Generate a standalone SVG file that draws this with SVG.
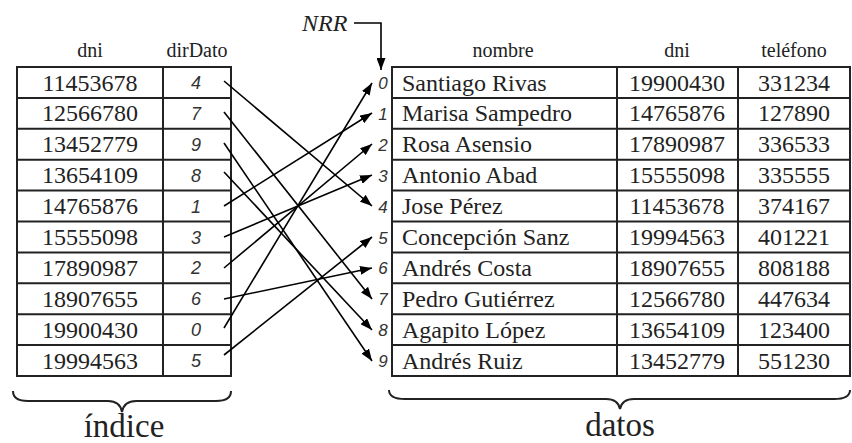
<svg xmlns="http://www.w3.org/2000/svg" width="852" height="443" viewBox="0 0 852 443">
<style>
.serif{font-family:"Liberation Serif","Times New Roman",Times,"DejaVu Serif",serif}
.cell{font-size:24px;fill:#222}
.hdr{font-size:20px;fill:#222;text-anchor:middle}
.num{font-family:"Liberation Sans",Arial,sans-serif;font-style:italic;font-size:18px;fill:#333;text-anchor:middle}
.lbl{font-family:"Liberation Sans",Arial,sans-serif;font-style:italic;font-size:17px;fill:#333;text-anchor:middle}
.big{font-size:33px;fill:#222;text-anchor:middle}
.nrr{font-style:italic;font-size:24px;fill:#222}
.mid{text-anchor:middle}
.grid{fill:none;stroke:#222;stroke-width:2}
.arr{stroke:#000;stroke-width:1.6;fill:none;marker-end:url(#ah)}
.brace{fill:none;stroke:#222;stroke-width:2}
</style>
<defs>
<marker id="ah" markerUnits="userSpaceOnUse" markerWidth="12" markerHeight="9" refX="12" refY="4.5" orient="auto"><path d="M0,0 L12,4.5 L0,9 z" fill="#000"/></marker>
</defs>
<g class="serif">
<g id="index-table">
<text class="hdr" x="90" y="57">dni</text>
<text class="hdr" x="197" y="57">dirDato</text>
<rect class="grid" x="17" y="67" width="214" height="309"/>
<path class="grid" d="M163,67V376M17,97.9H231M17,128.8H231M17,159.7H231M17,190.6H231M17,221.5H231M17,252.4H231M17,283.3H231M17,314.2H231M17,345.1H231"/>
<g class="cell mid">
<text x="90" y="90.5">11453678</text>
<text x="90" y="121.4">12566780</text>
<text x="90" y="152.3">13452779</text>
<text x="90" y="183.2">13654109</text>
<text x="90" y="214.1">14765876</text>
<text x="90" y="245">15555098</text>
<text x="90" y="275.9">17890987</text>
<text x="90" y="306.8">18907655</text>
<text x="90" y="337.7">19900430</text>
<text x="90" y="368.6">19994563</text>
</g>
<g class="num">
<text x="196" y="89">4</text>
<text x="196" y="119.9">7</text>
<text x="196" y="150.8">9</text>
<text x="196" y="181.7">8</text>
<text x="196" y="212.6">1</text>
<text x="196" y="243.5">3</text>
<text x="196" y="274.4">2</text>
<text x="196" y="305.3">6</text>
<text x="196" y="336.2">0</text>
<text x="196" y="367.1">5</text>
</g>
</g>
<g id="data-table">
<text class="hdr" x="503" y="57">nombre</text>
<text class="hdr" x="677" y="57">dni</text>
<text class="hdr" x="794" y="57">teléfono</text>
<rect class="grid" x="392" y="67" width="458" height="309"/>
<path class="grid" d="M617,67V376M738,67V376M392,97.9H850M392,128.8H850M392,159.7H850M392,190.6H850M392,221.5H850M392,252.4H850M392,283.3H850M392,314.2H850M392,345.1H850"/>
<g class="cell">
<text x="402" y="90.5">Santiago Rivas</text>
<text x="402" y="121.4">Marisa Sampedro</text>
<text x="402" y="152.3">Rosa Asensio</text>
<text x="402" y="183.2">Antonio Abad</text>
<text x="402" y="214.1">Jose Pérez</text>
<text x="402" y="245">Concepción Sanz</text>
<text x="402" y="275.9">Andrés Costa</text>
<text x="402" y="306.8">Pedro Gutiérrez</text>
<text x="402" y="337.7">Agapito López</text>
<text x="402" y="368.6">Andrés Ruiz</text>
</g>
<g class="cell mid">
<text x="677" y="90.5">19900430</text>
<text x="677" y="121.4">14765876</text>
<text x="677" y="152.3">17890987</text>
<text x="677" y="183.2">15555098</text>
<text x="677" y="214.1">11453678</text>
<text x="677" y="245">19994563</text>
<text x="677" y="275.9">18907655</text>
<text x="677" y="306.8">12566780</text>
<text x="677" y="337.7">13654109</text>
<text x="677" y="368.6">13452779</text>
<text x="794" y="90.5">331234</text>
<text x="794" y="121.4">127890</text>
<text x="794" y="152.3">336533</text>
<text x="794" y="183.2">335555</text>
<text x="794" y="214.1">374167</text>
<text x="794" y="245">401221</text>
<text x="794" y="275.9">808188</text>
<text x="794" y="306.8">447634</text>
<text x="794" y="337.7">123400</text>
<text x="794" y="368.6">551230</text>
</g>
</g>
<g id="row-numbers" class="lbl">
<text x="383" y="89">0</text>
<text x="383" y="119.9">1</text>
<text x="383" y="150.8">2</text>
<text x="383" y="181.7">3</text>
<text x="383" y="212.6">4</text>
<text x="383" y="243.5">5</text>
<text x="383" y="274.4">6</text>
<text x="383" y="305.3">7</text>
<text x="383" y="336.2">8</text>
<text x="383" y="367.1">9</text>
</g>
<g id="nrr">
<text class="nrr" x="302" y="31">NRR</text>
</g>
<g id="braces">
<path class="brace" d="M13,391Q13,401 28,401L108,401Q120,401 122,412Q124,401 136,401L216,401Q231,401 231,391"/>
<text class="big" x="124" y="437">índice</text>
<path class="brace" d="M389,390Q389,399 405,399L606,399Q618,399 620,409Q622,399 634,399L834,399Q850,399 850,390"/>
<text class="big" x="620" y="436">datos</text>
</g>
</g>
<g id="connectors">
<path class="arr" d="M354,23H381V70"/>
<line class="arr" x1="224" y1="81" x2="372" y2="206"/>
<line class="arr" x1="224" y1="112" x2="372" y2="299"/>
<line class="arr" x1="224" y1="143" x2="372" y2="361"/>
<line class="arr" x1="224" y1="172" x2="372" y2="330"/>
<line class="arr" x1="224" y1="206" x2="372" y2="113"/>
<line class="arr" x1="224" y1="237" x2="372" y2="175"/>
<line class="arr" x1="224" y1="268" x2="372" y2="144"/>
<line class="arr" x1="224" y1="299" x2="372" y2="268"/>
<line class="arr" x1="224" y1="328" x2="372" y2="83"/>
<line class="arr" x1="224" y1="355" x2="372" y2="237"/>
</g>
</svg>
